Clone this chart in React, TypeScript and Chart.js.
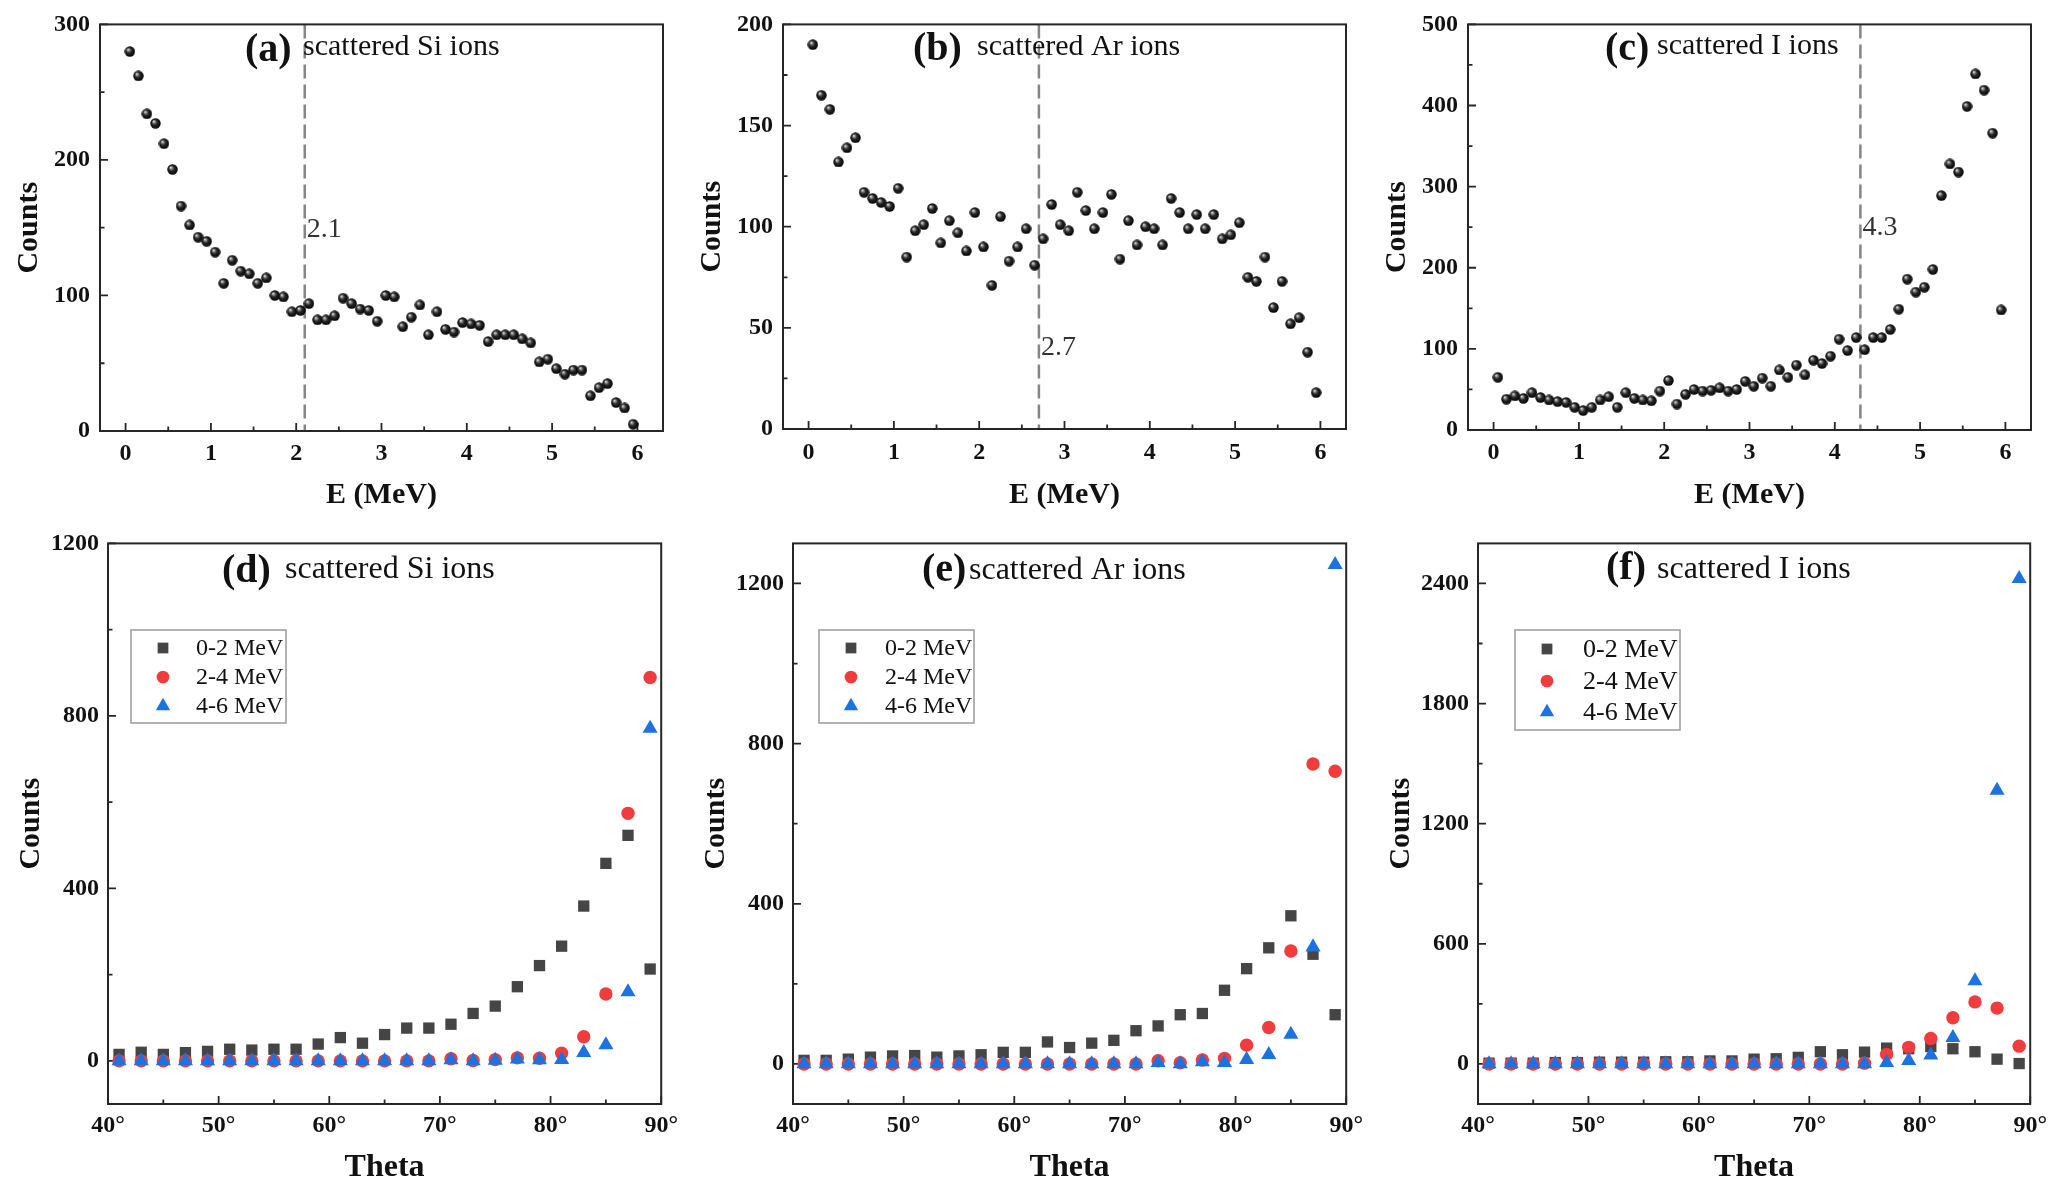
import React, { useEffect, useRef } from 'react';
import { Chart, registerables } from 'chart.js';

Chart.register(...registerables);

const SERIF = "'Liberation Serif', 'Times New Roman', Times, serif";

// ---------- data ----------
const energyMeV = [
  0.05, 0.15, 0.25, 0.35, 0.45, 0.55, 0.65, 0.75, 0.85, 0.95,
  1.05, 1.15, 1.25, 1.35, 1.45, 1.55, 1.65, 1.75, 1.85, 1.95,
  2.05, 2.15, 2.25, 2.35, 2.45, 2.55, 2.65, 2.75, 2.85, 2.95,
  3.05, 3.15, 3.25, 3.35, 3.45, 3.55, 3.65, 3.75, 3.85, 3.95,
  4.05, 4.15, 4.25, 4.35, 4.45, 4.55, 4.65, 4.75, 4.85, 4.95,
  5.05, 5.15, 5.25, 5.35, 5.45, 5.55, 5.65, 5.75, 5.85, 5.95,
];

const siSpectrum = [
  280, 262, 234, 227, 212, 193, 166, 152, 143, 140,
  132, 109, 126, 118, 116, 109, 113, 100, 99, 88,
  89, 94, 82, 82, 85, 98, 94, 90, 89, 81,
  100, 99, 77, 84, 93, 71, 88, 75, 73, 80,
  79, 78, 66, 71, 71, 71, 68, 65, 51, 53,
  46, 42, 45, 45, 26, 32, 35, 21, 17, 5,
];

const arSpectrum = [
  190, 165, 158, 132, 139, 144, 117, 114, 112, 110,
  119, 85, 98, 101, 109, 92, 103, 97, 88, 107,
  90, 71, 105, 83, 90, 99, 81, 94, 111, 101,
  98, 117, 108, 99, 107, 116, 84, 103, 91, 100,
  99, 91, 114, 107, 99, 106, 99, 106, 94, 96,
  102, 75, 73, 85, 60, 73, 52, 55, 38, 18,
];

const iSpectrum = [
  65, 38, 42, 39, 46, 40, 37, 35, 34, 28,
  24, 28, 37, 41, 28, 46, 39, 37, 36, 48,
  61, 32, 44, 50, 48, 49, 52, 48, 50, 60,
  54, 64, 54, 74, 65, 80, 68, 86, 82, 91,
  112, 98, 114, 99, 114, 114, 124, 149, 186, 170,
  176, 198, 289, 328, 318, 399, 439, 419, 366, 148,
];

const thetaDeg = [41, 43, 45, 47, 49, 51, 53, 55, 57, 59, 61, 63, 65, 67, 69, 71, 73, 75, 77, 79, 81, 83, 85, 87, 89];

const siLow = [15, 20, 15, 19, 22, 27, 25, 27, 27, 39, 54, 41, 61, 76, 76, 85, 110, 127, 172, 221, 266, 359, 458, 523, 213];
const siMid = [0, 0, 0, 0, 0, 0, 0, 0, 0, 0, 0, 0, 0, 0, 0, 5, 1, 3, 7, 6, 18, 56, 155, 574, 889];
const siHigh = [0, 0, 0, 0, 0, 0, 0, 0, 0, 0, 0, 0, 0, 0, 0, 2, 0, 1, 4, 2, 3, 19, 37, 160, 771];

const arLow = [9, 9, 12, 17, 20, 21, 17, 20, 23, 29, 29, 55, 41, 52, 59, 83, 95, 123, 126, 184, 238, 290, 370, 274, 123];
const arMid = [0, 0, 0, 0, 0, 0, 0, 0, 0, 0, 0, 0, 0, 0, 0, 0, 8, 3, 10, 14, 47, 91, 282, 749, 731];
const arHigh = [0, 0, 0, 0, 0, 0, 0, 0, 0, 0, 0, 0, 0, 0, 0, 0, 3, 0, 5, 3, 11, 23, 74, 292, 1247];

const iLow = [4, 4, 4, 7, 7, 9, 9, 9, 11, 11, 15, 15, 24, 26, 33, 61, 46, 59, 79, 76, 87, 76, 61, 24, 2];
const iMid = [0, 0, 0, 0, 0, 0, 0, 0, 0, 0, 0, 0, 0, 0, 0, 0, 0, 4, 48, 83, 127, 231, 310, 279, 89];
const iHigh = [0, 0, 0, 0, 0, 0, 0, 0, 0, 0, 0, 0, 0, 0, 0, 0, 0, 0, 6, 17, 44, 131, 415, 1366, 2424];

const legendLabels = ['0-2 MeV', '2-4 MeV', '4-6 MeV'];

const eTicks = [0, 1, 2, 3, 4, 5, 6];
const eMinor = [0.5, 1.5, 2.5, 3.5, 4.5, 5.5];
const thetaTicks = [40, 50, 60, 70, 80, 90];
const thetaMinor = [45, 55, 65, 75, 85];

const siTicks = [0, 100, 200, 300];
const siMinor = [50, 150, 250];
const arTicks = [0, 50, 100, 150, 200];
const arMinor = [25, 75, 125, 175];
const iTicks = [0, 100, 200, 300, 400, 500];
const iMinor = [50, 150, 250, 350, 450];

const dTicks = [0, 400, 800, 1200];
const dMinor = [200, 600, 1000];
const eCountTicks = [0, 400, 800, 1200];
const eCountMinor = [200, 600, 1000];
const fTicks = [0, 600, 1200, 1800, 2400];
const fMinor = [300, 900, 1500, 2100];

// ---------- styles ----------
const SQUARE_COLOR = '#454545';
const CIRCLE_COLOR = '#f03c3c';
const TRI_COLOR = '#1d72e2';
const SHAPES = [
  { style: 'rect', radius: 8, color: SQUARE_COLOR },
  { style: 'circle', radius: 6.7, color: CIRCLE_COLOR },
  { style: 'triangle', radius: 8.7, color: TRI_COLOR },
];

function makeBall(d: number): HTMLCanvasElement {
  const c = document.createElement('canvas');
  c.width = d;
  c.height = d;
  const ctx = c.getContext('2d')!;
  const r = d / 2 - 0.3;
  const cx = d / 2;
  const cy = d / 2;
  const g = ctx.createRadialGradient(cx - r * 0.38, cy - r * 0.42, 0, cx, cy, r);
  g.addColorStop(0, '#f4f4f4');
  g.addColorStop(0.2, '#a0a0a0');
  g.addColorStop(0.5, '#2a2a2a');
  g.addColorStop(1, '#020202');
  ctx.fillStyle = g;
  ctx.beginPath();
  ctx.arc(cx, cy, r, 0, Math.PI * 2);
  ctx.fill();
  return c;
}

type LegendCfg = { x: number; y: number; w: number; h: number; rows: number[]; markerX: number; textX: number; font: number };

type PanelCfg = {
  key: string;
  left: number; top: number; width: number; height: number;
  yAxisW: number; xAxisH: number; padTop: number; padRight: number;
  xMin: number; xMax: number; xTicks: number[]; xMinor: number[]; xFmt: (v: number) => string;
  yMin: number; yMax: number; yTicks: number[]; yMinor: number[];
  xTickPad: number; yTickPad: number;
  xTitle: string; xTitleSize: number; xTitlePad: number; yTitlePad: number;
  tag: string; tagX: number; tagBase: number; text: string; textX: number; textBase: number; textSize: number;
  vline?: number; vlineLabel?: string; vlineBase?: number;
  legend?: LegendCfg;
  kind: 'spectrum' | 'theta';
  spectrum?: number[];
  series?: number[][];
};

const TOP_XTITLE_PAD = 7;

const panels: PanelCfg[] = [
  {
    key: 'a', left: 0, top: 0, width: 683, height: 520,
    yAxisW: 100, xAxisH: 89, padTop: 21, padRight: 20,
    xMin: -0.3, xMax: 6.3, xTicks: eTicks, xMinor: eMinor, xFmt: (v) => String(v),
    yMin: 0, yMax: 300, yTicks: siTicks, yMinor: siMinor,
    xTickPad: 8, yTickPad: 10,
    xTitle: 'E (MeV)', xTitleSize: 30, xTitlePad: TOP_XTITLE_PAD, yTitlePad: 11,
    tag: '(a)', tagX: 245, tagBase: 61, text: 'scattered Si ions', textX: 303, textBase: 55, textSize: 30,
    vline: 2.1, vlineLabel: '2.1', vlineBase: 237,
    kind: 'spectrum', spectrum: siSpectrum,
  },
  {
    key: 'b', left: 683, top: 0, width: 683, height: 520,
    yAxisW: 100, xAxisH: 91, padTop: 18, padRight: 20,
    xMin: -0.3, xMax: 6.3, xTicks: eTicks, xMinor: eMinor, xFmt: (v) => String(v),
    yMin: 0, yMax: 200, yTicks: arTicks, yMinor: arMinor,
    xTickPad: 9, yTickPad: 10,
    xTitle: 'E (MeV)', xTitleSize: 30, xTitlePad: TOP_XTITLE_PAD, yTitlePad: 11,
    tag: '(b)', tagX: 230, tagBase: 60, text: 'scattered Ar ions', textX: 294, textBase: 55, textSize: 30,
    vline: 2.7, vlineLabel: '2.7', vlineBase: 355,
    kind: 'spectrum', spectrum: arSpectrum,
  },
  {
    key: 'c', left: 1368, top: 0, width: 686, height: 520,
    yAxisW: 100, xAxisH: 90, padTop: 19, padRight: 23,
    xMin: -0.3, xMax: 6.3, xTicks: eTicks, xMinor: eMinor, xFmt: (v) => String(v),
    yMin: 0, yMax: 500, yTicks: iTicks, yMinor: iMinor,
    xTickPad: 8, yTickPad: 10,
    xTitle: 'E (MeV)', xTitleSize: 30, xTitlePad: TOP_XTITLE_PAD, yTitlePad: 11,
    tag: '(c)', tagX: 237, tagBase: 60, text: 'scattered I ions', textX: 289, textBase: 54, textSize: 30,
    vline: 4.3, vlineLabel: '4.3', vlineBase: 235,
    kind: 'spectrum', spectrum: iSpectrum,
  },
  {
    key: 'd', left: 0, top: 520, width: 685, height: 670,
    yAxisW: 108, xAxisH: 86, padTop: 18, padRight: 23,
    xMin: 40, xMax: 90, xTicks: thetaTicks, xMinor: thetaMinor, xFmt: (v) => `${v}°`,
    yMin: -100, yMax: 1200, yTicks: dTicks, yMinor: dMinor,
    xTickPad: 7, yTickPad: 9,
    xTitle: 'Theta', xTitleSize: 32, xTitlePad: 3, yTitlePad: 13,
    tag: '(d)', tagX: 222, tagBase: 62, text: 'scattered Si ions', textX: 285, textBase: 58, textSize: 32,
    legend: { x: 131, y: 110, w: 155, h: 93, rows: [128, 157, 186], markerX: 163, textX: 196, font: 24 },
    kind: 'theta', series: [siLow, siMid, siHigh],
  },
  {
    key: 'e', left: 685, top: 520, width: 685, height: 670,
    yAxisW: 108, xAxisH: 86, padTop: 18, padRight: 22,
    xMin: 40, xMax: 90, xTicks: thetaTicks, xMinor: thetaMinor, xFmt: (v) => `${v}°`,
    yMin: -100, yMax: 1300, yTicks: eCountTicks, yMinor: eCountMinor,
    xTickPad: 7, yTickPad: 9,
    xTitle: 'Theta', xTitleSize: 32, xTitlePad: 3, yTitlePad: 13,
    tag: '(e)', tagX: 237, tagBase: 61, text: 'scattered Ar ions', textX: 284, textBase: 59, textSize: 32,
    legend: { x: 134, y: 110, w: 155, h: 93, rows: [128, 157, 186], markerX: 166, textX: 200, font: 24 },
    kind: 'theta', series: [arLow, arMid, arHigh],
  },
  {
    key: 'f', left: 1370, top: 520, width: 684, height: 670,
    yAxisW: 108, xAxisH: 86, padTop: 18, padRight: 22,
    xMin: 40, xMax: 90, xTicks: thetaTicks, xMinor: thetaMinor, xFmt: (v) => `${v}°`,
    yMin: -200, yMax: 2600, yTicks: fTicks, yMinor: fMinor,
    xTickPad: 7, yTickPad: 9,
    xTitle: 'Theta', xTitleSize: 32, xTitlePad: 3, yTitlePad: 13,
    tag: '(f)', tagX: 236, tagBase: 59, text: 'scattered I ions', textX: 287, textBase: 58, textSize: 32,
    legend: { x: 145, y: 110, w: 165, h: 100, rows: [129, 161, 192], markerX: 177, textX: 213, font: 26 },
    kind: 'theta', series: [iLow, iMid, iHigh],
  },
];

function drawShape(ctx: CanvasRenderingContext2D, style: string, x: number, y: number, r: number, color: string) {
  ctx.fillStyle = color;
  ctx.beginPath();
  if (style === 'rect') {
    const s = r * Math.SQRT1_2;
    ctx.rect(x - s, y - s, 2 * s, 2 * s);
  } else if (style === 'circle') {
    ctx.arc(x, y, r, 0, Math.PI * 2);
  } else {
    let rad = 0;
    ctx.moveTo(x + Math.sin(rad) * r, y - Math.cos(rad) * r);
    rad += (2 * Math.PI) / 3;
    ctx.lineTo(x + Math.sin(rad) * r, y - Math.cos(rad) * r);
    rad += (2 * Math.PI) / 3;
    ctx.lineTo(x + Math.sin(rad) * r, y - Math.cos(rad) * r);
    ctx.closePath();
  }
  ctx.fill();
}

function PanelChart({ p }: { p: PanelCfg }) {
  const ref = useRef<HTMLCanvasElement>(null);

  useEffect(() => {
    const canvas = ref.current;
    if (!canvas) return;

    let datasets: any[] = [];
    if (p.kind === 'spectrum' && p.spectrum) {
      const ball = makeBall(11);
      datasets = [
        {
          label: 'counts',
          data: energyMeV.map((e, i) => ({ x: e, y: p.spectrum![i] })),
          pointStyle: ball,
          pointRadius: 5.5,
          showLine: false,
          clip: false,
        },
      ];
    } else if (p.series) {
      datasets = p.series.map((vals, si) => ({
        label: legendLabels[si],
        data: thetaDeg.map((t, i) => ({ x: t, y: vals[i] })),
        pointStyle: SHAPES[si].style,
        pointRadius: SHAPES[si].radius,
        backgroundColor: SHAPES[si].color,
        borderColor: SHAPES[si].color,
        pointBorderWidth: 0,
        showLine: false,
        clip: false,
        order: 3 - si,
      }));
    }

    const decor = {
      id: 'decor' + p.key,
      beforeDatasetsDraw(chart: any) {
        const { ctx, chartArea: a, scales } = chart;
        const xs = scales.x;
        const ys = scales.y;
        ctx.save();
        if (p.vline !== undefined) {
          const vx = xs.getPixelForValue(p.vline);
          ctx.strokeStyle = '#858585';
          ctx.lineWidth = 2.5;
          ctx.setLineDash([14, 6]);
          ctx.beginPath();
          ctx.moveTo(vx, a.top);
          ctx.lineTo(vx, a.bottom);
          ctx.stroke();
          ctx.setLineDash([]);
          ctx.fillStyle = '#333';
          ctx.font = `28px ${SERIF}`;
          ctx.textAlign = 'left';
          ctx.textBaseline = 'alphabetic';
          ctx.fillText(p.vlineLabel || '', vx + 2, p.vlineBase || 0);
        }
        // frame
        ctx.strokeStyle = '#262626';
        ctx.lineWidth = 2;
        ctx.strokeRect(a.left, a.top, a.right - a.left, a.bottom - a.top);
        // ticks (inward)
        ctx.lineWidth = 1.8;
        ctx.beginPath();
        p.xTicks.forEach((v) => {
          const x = xs.getPixelForValue(v);
          ctx.moveTo(x, a.bottom);
          ctx.lineTo(x, a.bottom - 8);
        });
        p.xMinor.forEach((v) => {
          const x = xs.getPixelForValue(v);
          ctx.moveTo(x, a.bottom);
          ctx.lineTo(x, a.bottom - 4.5);
        });
        p.yTicks.forEach((v) => {
          const y = ys.getPixelForValue(v);
          ctx.moveTo(a.left, y);
          ctx.lineTo(a.left + 8, y);
        });
        p.yMinor.forEach((v) => {
          const y = ys.getPixelForValue(v);
          ctx.moveTo(a.left, y);
          ctx.lineTo(a.left + 4.5, y);
        });
        ctx.stroke();
        ctx.restore();
      },
      afterDraw(chart: any) {
        const { ctx } = chart;
        ctx.save();
        ctx.textAlign = 'left';
        ctx.textBaseline = 'alphabetic';
        ctx.fillStyle = '#111';
        ctx.font = `bold 40px ${SERIF}`;
        ctx.fillText(p.tag, p.tagX, p.tagBase);
        ctx.font = `${p.textSize}px ${SERIF}`;
        ctx.fillText(p.text, p.textX, p.textBase);

        if (p.legend) {
          const L = p.legend;
          ctx.strokeStyle = '#9a9a9a';
          ctx.lineWidth = 1.5;
          ctx.strokeRect(L.x, L.y, L.w, L.h);
          ctx.font = `${L.font}px ${SERIF}`;
          ctx.textBaseline = 'middle';
          L.rows.forEach((ry, i) => {
            drawShape(ctx, SHAPES[i].style, L.markerX, ry, SHAPES[i].radius * 0.95, SHAPES[i].color);
            ctx.fillStyle = '#111';
            ctx.fillText(legendLabels[i], L.textX, ry + 1);
          });
        }
        ctx.restore();
      },
    };

    const tickFont = { family: SERIF, size: 24, weight: 'bold' as const };

    const chart = new Chart(canvas, {
      type: 'scatter',
      data: { datasets },
      options: {
        responsive: false,
        animation: false,
        events: [],
        layout: { padding: { top: p.padTop, right: p.padRight, left: 0, bottom: 0 } },
        plugins: {
          legend: { display: false },
          tooltip: { enabled: false },
          title: { display: false },
        },
        scales: {
          x: {
            type: 'linear',
            min: p.xMin,
            max: p.xMax,
            afterBuildTicks: (s: any) => {
              s.ticks = p.xTicks.map((v) => ({ value: v }));
            },
            afterFit: (s: any) => {
              s.height = p.xAxisH;
            },
            grid: { display: false, drawTicks: false },
            border: { display: false },
            ticks: {
              padding: p.xTickPad,
              color: '#111',
              font: tickFont,
              maxRotation: 0,
              autoSkip: false,
              callback: (v: any) => p.xFmt(Number(v)),
            },
            title: {
              display: true,
              text: p.xTitle,
              color: '#111',
              font: { family: SERIF, size: p.xTitleSize, weight: 'bold' },
              padding: { top: 0, bottom: p.xTitlePad },
            },
          },
          y: {
            type: 'linear',
            min: p.yMin,
            max: p.yMax,
            afterBuildTicks: (s: any) => {
              s.ticks = p.yTicks.map((v) => ({ value: v }));
            },
            afterFit: (s: any) => {
              s.width = p.yAxisW;
            },
            grid: { display: false, drawTicks: false },
            border: { display: false },
            ticks: {
              padding: p.yTickPad,
              color: '#111',
              font: tickFont,
              autoSkip: false,
              callback: (v: any) => String(v),
            },
            title: {
              display: true,
              text: 'Counts',
              color: '#111',
              font: { family: SERIF, size: 30, weight: 'bold' },
              padding: { top: p.yTitlePad, bottom: 0 },
            },
          },
        },
      } as any,
      plugins: [decor],
    });

    return () => {
      chart.destroy();
    };
  }, [p]);

  return (
    <canvas
      ref={ref}
      width={p.width}
      height={p.height}
      style={{ position: 'absolute', left: p.left, top: p.top, width: p.width, height: p.height }}
    />
  );
}

export default function App() {
  useEffect(() => {
    document.body.style.margin = '0';
    document.body.style.background = '#ffffff';
  }, []);
  return (
    <div style={{ position: 'absolute', left: 0, top: 0, width: 2054, height: 1190, background: '#ffffff', overflow: 'hidden' }}>
      {panels.map((p) => (
        <PanelChart key={p.key} p={p} />
      ))}
    </div>
  );
}
